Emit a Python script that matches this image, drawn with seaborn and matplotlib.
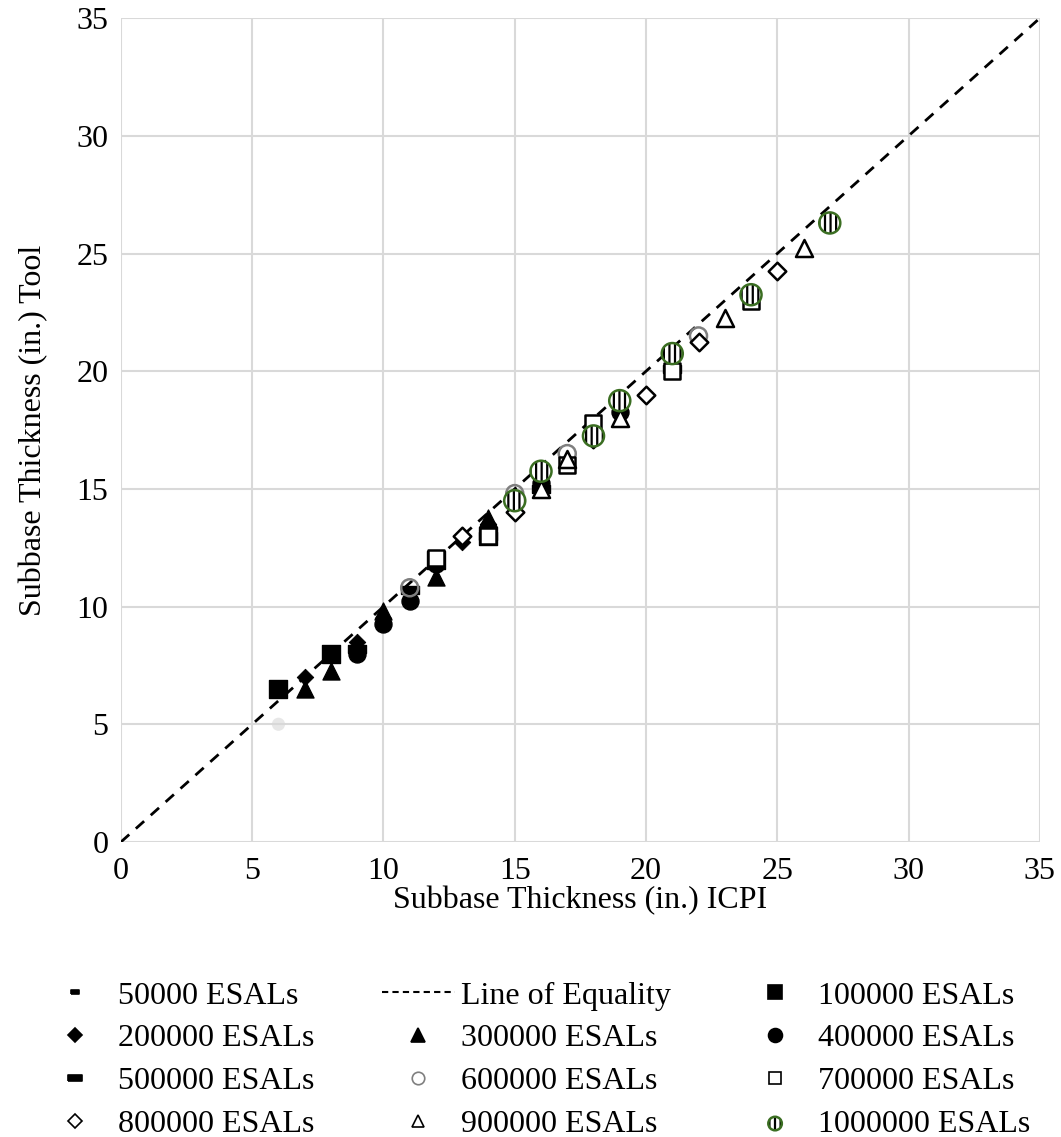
"""Subbase thickness: design tool vs ICPI tables."""

import matplotlib

matplotlib.use("Agg")
import matplotlib.pyplot as plt
import numpy as np
import pandas as pd
import seaborn as sns
from matplotlib.collections import PathCollection
from matplotlib.legend_handler import HandlerPathCollection, HandlerTuple
from matplotlib.lines import Line2D

# ICPI thickness (x) and tool thickness (y), per traffic level
esal_50k_x = [6]
esal_50k_y = [5.0]
esal_100k_x = [6, 8, 12, 14]
esal_100k_y = [6.5, 8.0, 12.0, 13.0]
esal_200k_x = [7, 9, 10, 13, 14]
esal_200k_y = [7.0, 8.5, 9.5, 12.75, 13.5]
esal_300k_x = [7, 8, 10, 12, 14]
esal_300k_y = [6.5, 7.25, 9.8, 11.25, 13.75]
esal_400k_x = [9, 10, 11, 12, 14, 16, 19]
esal_400k_y = [8.0, 9.25, 10.25, 11.8, 13.3, 15.25, 18.25]
esal_500k_x = [9, 11, 14, 16, 21]
esal_500k_y = [8.2, 10.7, 13.0, 15.0, 20.1]
esal_600k_x = [11, 15, 17, 22]
esal_600k_y = [10.8, 14.8, 16.5, 21.5]
esal_700k_x = [12, 14, 17, 18, 21, 24]
esal_700k_y = [12.05, 13.0, 16.0, 17.8, 20.0, 23.0]
esal_800k_x = [13, 15, 18, 20, 22, 25]
esal_800k_y = [13.0, 14.0, 17.1, 19.0, 21.25, 24.25]
esal_900k_x = [16, 17, 19, 23, 26]
esal_900k_y = [15.0, 16.25, 18.0, 22.25, 25.25]
esal_1m_x = [15, 16, 18, 19, 21, 24, 27]
esal_1m_y = [14.5, 15.75, 17.25, 18.75, 20.75, 23.25, 26.3]

equality = [0, 35]

GRID = "#d9d9d9"
GREEN = "#3b6e22"
FS = 23
DASH = [(-1.0, -0.45), (1.0, -0.45), (1.0, 0.45), (-1.0, 0.45), (-1.0, -0.45)]

sns.set_theme(style="whitegrid")
plt.rcParams["font.family"] = ["Liberation Serif", "DejaVu Serif"]
plt.rcParams["font.size"] = FS
plt.rcParams["text.color"] = "black"
plt.rcParams["axes.labelcolor"] = "black"
plt.rcParams["hatch.linewidth"] = 1.6

fig = plt.figure(figsize=(10.61, 11.37), dpi=100)
ax = fig.add_axes([0.114, 0.2595, 0.866, 0.7245])

ax.plot(equality, equality, color="black", lw=2, dashes=(4, 3.2), zorder=2)


def scatter(x, y, **kw):
    df = pd.DataFrame({"x": x, "y": y})
    return sns.scatterplot(data=df, x="x", y="y", ax=ax, legend=False,
                           zorder=3, **kw)


# the 50000 point shows as a faint smudge
scatter(esal_50k_x, esal_50k_y, color="#d8d8d8", s=90, edgecolor="none",
        alpha=0.6)
scatter(esal_100k_x, esal_100k_y, marker="s", color="black", s=150,
        edgecolor="black")
scatter(esal_200k_x, esal_200k_y, marker="D", color="black", s=70,
        edgecolor="black")
scatter(esal_300k_x, esal_300k_y, marker="^", color="black", s=150,
        edgecolor="black")
scatter(esal_400k_x, esal_400k_y, marker="o", color="black", s=150,
        edgecolor="black")
scatter(esal_500k_x, esal_500k_y, marker=DASH, color="black", s=150,
        edgecolor="black")
scatter(esal_600k_x, esal_600k_y, marker="o", facecolor="none", s=150,
        edgecolor="#7f7f7f", linewidth=1.8)
scatter(esal_700k_x, esal_700k_y, marker="s", facecolor="white", s=130,
        edgecolor="black", linewidth=1.8)
scatter(esal_800k_x, esal_800k_y, marker="D", facecolor="white", s=80,
        edgecolor="black", linewidth=1.8)
scatter(esal_900k_x, esal_900k_y, marker="^", facecolor="white", s=150,
        edgecolor="black", linewidth=1.8)
scatter(esal_1m_x, esal_1m_y, marker="o", facecolor="white", s=230,
        edgecolor="black", linewidth=0, hatch="|||")
scatter(esal_1m_x, esal_1m_y, marker="o", facecolor="none", s=230,
        edgecolor=GREEN, linewidth=1.8)
hatch_pts = ax.collections[-2]
ring_pts = ax.collections[-1]

ax.set_xlim(0, 35)
ax.set_ylim(0, 35)
ax.set_xticks(np.arange(0, 36, 5))
ax.set_yticks(np.arange(0, 36, 5))
ax.grid(True, color=GRID, lw=1.5)
ax.tick_params(length=0, labelsize=FS, colors="black")
ax.tick_params(axis="x", pad=11)
ax.tick_params(axis="y", pad=9)
for side in ax.spines.values():
    side.set_visible(False)
ax.set_xlabel("Subbase Thickness (in.) ICPI", fontsize=FS, labelpad=0,
              color="black")
ax.set_ylabel("Subbase Thickness (in.) Tool", fontsize=FS, labelpad=20,
              color="black")


def mk(marker, size, face="black", edge="black", lw=1.2):
    return Line2D([], [], ls="none", marker=marker, markersize=size,
                  markerfacecolor=face, markeredgecolor=edge,
                  markeredgewidth=lw)


handles = {
    "50000 ESALs": mk(DASH, 6),
    "Line of Equality": Line2D([], [], color="black", lw=1.5, dashes=(3, 2)),
    "100000 ESALs": mk("s", 10),
    "200000 ESALs": mk("D", 7),
    "300000 ESALs": mk("^", 10),
    "400000 ESALs": mk("o", 10),
    "500000 ESALs": mk(DASH, 10),
    "600000 ESALs": mk("o", 9, face="white", edge="#7f7f7f"),
    "700000 ESALs": mk("s", 9, face="white"),
    "800000 ESALs": mk("D", 7, face="white"),
    "900000 ESALs": mk("^", 9, face="white"),
    "1000000 ESALs": (hatch_pts, ring_pts),
}
# matplotlib fills legend columns first, the reference reads by rows
order = [
    "50000 ESALs", "200000 ESALs", "500000 ESALs", "800000 ESALs",
    "Line of Equality", "300000 ESALs", "600000 ESALs", "900000 ESALs",
    "100000 ESALs", "400000 ESALs", "700000 ESALs", "1000000 ESALs",
]
leg = fig.legend([handles[k] for k in order], order, ncol=3,
                 loc="upper left", bbox_to_anchor=(0.036, 0.137),
                 frameon=False, fontsize=FS, borderaxespad=0, borderpad=0,
                 handlelength=2.3, handletextpad=0.2, columnspacing=2.1,
                 labelspacing=0.42,
                 handler_map={tuple: HandlerTuple(ndivide=1, pad=0),
                              PathCollection: HandlerPathCollection(sizes=[95])})
for t in leg.get_texts():
    t.set_color("black")

fig.savefig("out.png", dpi=100)
